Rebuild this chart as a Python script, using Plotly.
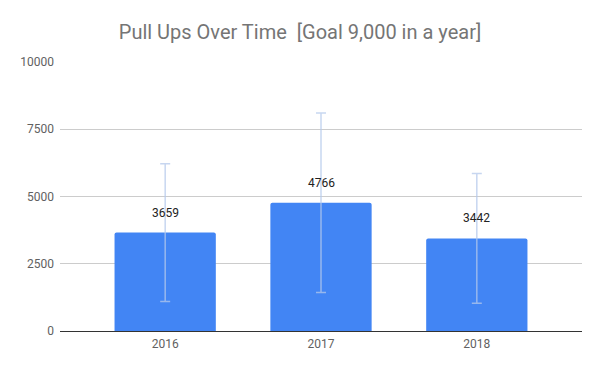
import plotly.graph_objects as go

years = ["2016", "2017", "2018"]
pullups = [3659, 4766, 3442]
error_percent = 70
y_ticks = [0, 2500, 5000, 7500, 10000]

fig = go.Figure()
fig.add_trace(go.Bar(
    x=years, y=pullups,
    marker=dict(color="#4285f4", line=dict(width=0)),
    width=0.65,
    error_y=dict(type="percent", value=error_percent, color="rgba(180,200,235,0.75)",
                 thickness=1.5, width=5),
    hoverinfo="x+y",
))
for i, v in enumerate(pullups):
    fig.add_annotation(x=i, y=v, xref="x", yref="y", text=str(v), showarrow=False,
                       yanchor="bottom", yshift=11, font=dict(size=12, color="#222222"))

fig.update_layout(
    width=600, height=371,
    margin=dict(l=60, r=18, t=62, b=40),
    paper_bgcolor="white", plot_bgcolor="white",
    font=dict(family="Roboto, Arial, sans-serif", size=12, color="#616161"),
    title=dict(text="Pull Ups Over Time  [Goal 9,000 in a year]", x=0.5, xanchor="center",
               y=0.915, yanchor="middle", font=dict(size=20, color="#757575")),
    barcornerradius=2,
    showlegend=False,
    xaxis=dict(type="category", range=[-0.675, 2.675], showgrid=False, ticks="", showline=False,
               ticklabelstandoff=4, tickfont=dict(size=12, color="#616161")),
    yaxis=dict(range=[0, 10000], tickvals=y_ticks, ticktext=[str(t) for t in y_ticks],
               showgrid=True, gridcolor="#cccccc", gridwidth=1,
               zeroline=True, zerolinecolor="#333333", zerolinewidth=1,
               ticks="", ticklabelstandoff=5, tickfont=dict(size=12, color="#616161")),
)
fig.write_html("out.html", config={"displayModeBar": False},
               post_script="document.body.style.margin='0';")
